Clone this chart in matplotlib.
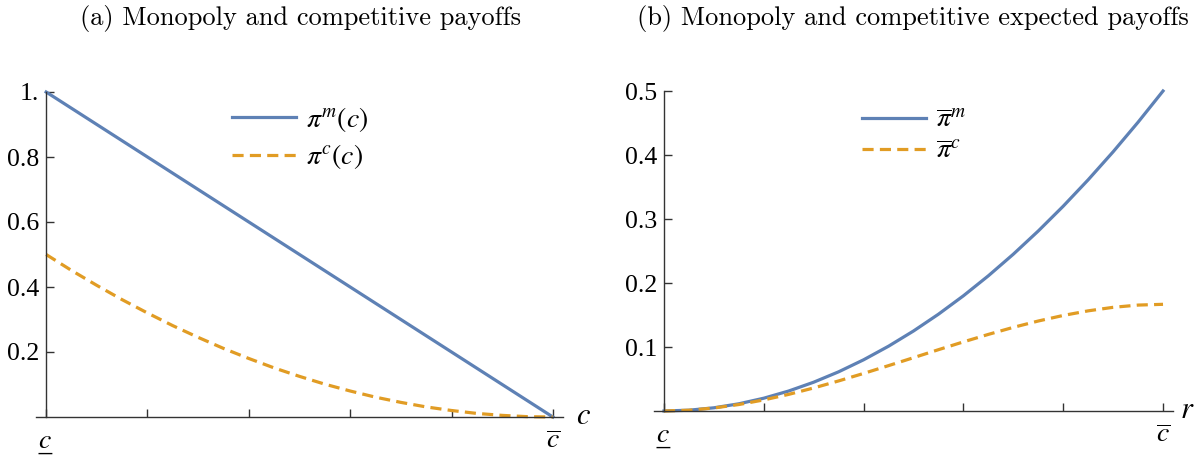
import matplotlib
matplotlib.use("Agg")
import matplotlib.pyplot as plt

# ---------------- data ----------------
c_vals = [0.00, 0.05, 0.10, 0.15, 0.20, 0.25, 0.30, 0.35, 0.40, 0.45, 0.50,
          0.55, 0.60, 0.65, 0.70, 0.75, 0.80, 0.85, 0.90, 0.95, 1.00]
pi_m = [1.00, 0.95, 0.90, 0.85, 0.80, 0.75, 0.70, 0.65, 0.60, 0.55, 0.50,
        0.45, 0.40, 0.35, 0.30, 0.25, 0.20, 0.15, 0.10, 0.05, 0.00]
pi_c = [0.500, 0.451, 0.405, 0.361, 0.320, 0.281, 0.245, 0.211, 0.180, 0.151, 0.125,
        0.101, 0.080, 0.061, 0.045, 0.031, 0.020, 0.011, 0.005, 0.001, 0.000]

r_vals = [0.00, 0.05, 0.10, 0.15, 0.20, 0.25, 0.30, 0.35, 0.40, 0.45, 0.50,
          0.55, 0.60, 0.65, 0.70, 0.75, 0.80, 0.85, 0.90, 0.95, 1.00]
pibar_m = [0.000, 0.00125, 0.005, 0.01125, 0.020, 0.03125, 0.045, 0.06125, 0.080, 0.10125, 0.125,
           0.15125, 0.180, 0.21125, 0.245, 0.28125, 0.320, 0.36125, 0.405, 0.45125, 0.500]
pibar_c = [0.000, 0.0012, 0.0047, 0.0101, 0.0173, 0.0260, 0.0360, 0.0470, 0.0587, 0.0709, 0.0833,
           0.0958, 0.1080, 0.1197, 0.1307, 0.1406, 0.1493, 0.1565, 0.1620, 0.1655, 0.1667]

x_ticks = [0.0, 0.2, 0.4, 0.6, 0.8, 1.0]
x_ticklabels = ["c\u0332", "", "", "", "", r"$\overline{c}$"]
left_yticks = [0.2, 0.4, 0.6, 0.8, 1.0]
left_yticklabels = ["0.2", "0.4", "0.6", "0.8", "1."]
right_yticks = [0.1, 0.2, 0.3, 0.4, 0.5]
right_yticklabels = ["0.1", "0.2", "0.3", "0.4", "0.5"]

titles = ["(a) Monopoly and competitive payoffs",
          "(b) Monopoly and competitive expected payoffs"]
left_labels = [r"$\pi^m(c)$", r"$\pi^c(c)$"]
right_labels = [r"$\overline{\pi}^m$", r"$\overline{\pi}^c$"]

# ---------------- style ----------------
plt.rcParams["mathtext.fontset"] = "stix"
plt.rcParams["font.family"] = ["Liberation Serif", "DejaVu Serif"]
plt.rcParams["lines.scale_dashes"] = False

BLUE = "#5E81B5"
ORANGE = "#E19C24"
AXC = "#333333"
LW = 2.3
DASH = (8.0, 4.5)
TICKFS = 18.5
LEGFS = 20

W, H = 1200, 455
fig = plt.figure(figsize=(W / 100, H / 100), dpi=100)


def px_axes(x0, x1, ybot, ytop):
    return fig.add_axes([x0 / W, (H - ybot) / H, (x1 - x0) / W, (ybot - ytop) / H])


def style_axes(ax, ymax, yticks, yticklabels):
    for s in ("top", "right"):
        ax.spines[s].set_visible(False)
    ax.spines["left"].set_position(("data", 0))
    ax.spines["bottom"].set_position(("data", 0))
    for s in ("left", "bottom"):
        ax.spines[s].set_color(AXC)
        ax.spines[s].set_linewidth(1.0)
    ax.set_xlim(-0.02, 1.02)
    ax.set_ylim(0, ymax)
    ax.spines["left"].set_bounds(0, ymax)
    ax.set_xticks(x_ticks)
    ax.set_xticklabels(x_ticklabels)
    ax.set_yticks(yticks)
    ax.set_yticklabels(yticklabels)
    ax.tick_params(axis="both", direction="in", length=6, width=1.0, color=AXC,
                   labelsize=TICKFS)
    ax.tick_params(axis="x", pad=9)
    ax.tick_params(axis="y", pad=5)
    for lab in ax.get_xticklabels():
        lab.set_fontsize(20)
    xl = ax.get_xticklabels()
    xl[0].set_fontfamily(["STIXGeneral", "DejaVu Serif", "DejaVu Sans"])
    xl[0].set_fontstyle("italic")


# ---------------- panel (a) ----------------
ax1 = px_axes(36, 563, 417, 92)
ax1.plot(c_vals, pi_m, color=BLUE, lw=LW, clip_on=False, label=left_labels[0])
ax1.plot(c_vals, pi_c, color=ORANGE, lw=LW, dashes=DASH, clip_on=False,
         label=left_labels[1])
style_axes(ax1, 1.0, left_yticks, left_yticklabels)
ax1.text(1.045, 0.0, r"$c$", fontsize=22, transform=ax1.transData,
         ha="left", va="center")
ax1.legend(loc="upper left", bbox_to_anchor=(232 / W, (H - 105) / H),
           bbox_transform=fig.transFigure, frameon=False, fontsize=LEGFS,
           handlelength=2.3, handletextpad=0.35, borderpad=0, borderaxespad=0,
           labelspacing=0.3)

# ---------------- panel (b) ----------------
ax2 = px_axes(654, 1173, 411, 91)
ax2.plot(r_vals, pibar_m, color=BLUE, lw=LW, clip_on=False, label=right_labels[0])
ax2.plot(r_vals, pibar_c, color=ORANGE, lw=LW, dashes=DASH, clip_on=False,
         label=right_labels[1])
style_axes(ax2, 0.5, right_yticks, right_yticklabels)
ax2.text(1.035, 0.0, r"$r$", fontsize=22, transform=ax2.transData,
         ha="left", va="center")
ax2.legend(loc="upper left", bbox_to_anchor=(862 / W, (H - 108) / H),
           bbox_transform=fig.transFigure, frameon=False, fontsize=LEGFS,
           handlelength=2.3, handletextpad=0.35, borderpad=0, borderaxespad=0,
           labelspacing=0.2)

# ---------------- titles ----------------
fig.text(300 / W, 1 - 18 / H, titles[0], fontfamily="cmr10", fontsize=19,
         ha="center", va="center")
fig.text(913 / W, 1 - 18 / H, titles[1], fontfamily="cmr10", fontsize=19,
         ha="center", va="center")

fig.savefig("out.png", dpi=100)
